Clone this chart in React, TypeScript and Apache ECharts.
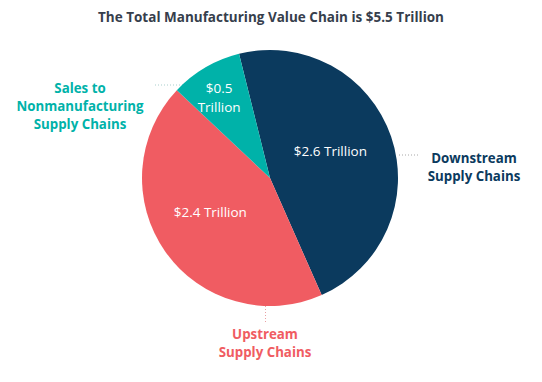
import React, { useEffect, useRef } from "react";
import * as echarts from "echarts";

const categories = ["Downstream Supply Chains", "Upstream Supply Chains", "Sales to Nonmanufacturing Supply Chains"];
const values = [2.6, 2.4, 0.5];
const insideLabels = ["$2.6 Trillion", "$2.4 Trillion", "$0.5\nTrillion"];
const colors = ["#0B3A5E", "#F05C62", "#00B2A9"];

const FONT = "'Open Sans', Lato, sans-serif";

export default function App() {
  const ref = useRef<HTMLDivElement>(null);
  useEffect(() => {
    document.body.style.margin = "0";
    const chart = echarts.init(ref.current!, null, { renderer: "svg" });
    const offsets = [[-3, -5], [-5, -5], [-17, -23]];
    chart.setOption({
      animation: false,
      title: {
        text: "The Total Manufacturing Value Chain is $5.5 Trillion",
        left: "center",
        top: 5,
        textStyle: { fontFamily: FONT, fontWeight: "bold", fontSize: 13.5, color: "#363E4C" },
      },
      series: [
        {
          type: "pie",
          center: [270, 178],
          radius: [0, 128],
          startAngle: 104,
          clockwise: true,
          silent: true,
          itemStyle: { borderWidth: 0 },
          label: {
            position: "inside",
            color: "#ffffff",
            fontFamily: FONT,
            fontSize: 13.5,
            lineHeight: 19,
            align: "center",
          },
          labelLine: { show: false },
          data: categories.map((c, i) => ({
            name: c,
            value: values[i],
            itemStyle: { color: colors[i] },
            label: { formatter: insideLabels[i], offset: offsets[i] },
          })),
        },
      ],
      graphic: [
        {
          type: "text",
          x: 80,
          y: 79,
          style: {
            text: "Sales to\nNonmanufacturing\nSupply Chains",
            fill: colors[2],
            font: `bold 13.3px ${FONT}`,
            lineHeight: 18,
            align: "center",
          },
        },
        {
          type: "line",
          shape: { x1: 155, y1: 85, x2: 183, y2: 85 },
          style: { stroke: "#A9CFCC", lineWidth: 1, lineDash: [1, 2] },
        },
        {
          type: "text",
          x: 474,
          y: 149,
          style: {
            text: "Downstream\nSupply Chains",
            fill: colors[0],
            font: `bold 13.3px ${FONT}`,
            lineHeight: 18,
            align: "center",
          },
        },
        {
          type: "line",
          shape: { x1: 399, y1: 155, x2: 420, y2: 155 },
          style: { stroke: "#A8A8A8", lineWidth: 1, lineDash: [1, 2] },
        },
        {
          type: "text",
          x: 265,
          y: 325,
          style: {
            text: "Upstream\nSupply Chains",
            fill: colors[1],
            font: `bold 13.3px ${FONT}`,
            lineHeight: 18,
            align: "center",
          },
        },
        {
          type: "line",
          shape: { x1: 265.5, y1: 306, x2: 265.5, y2: 322 },
          style: { stroke: "#E9A0A3", lineWidth: 1, lineDash: [1, 2] },
        },
      ],
    });
    return () => chart.dispose();
  }, []);
  return <div ref={ref} style={{ width: 542, height: 382, position: "absolute", left: 0, top: 0, background: "#fff" }} />;
}
